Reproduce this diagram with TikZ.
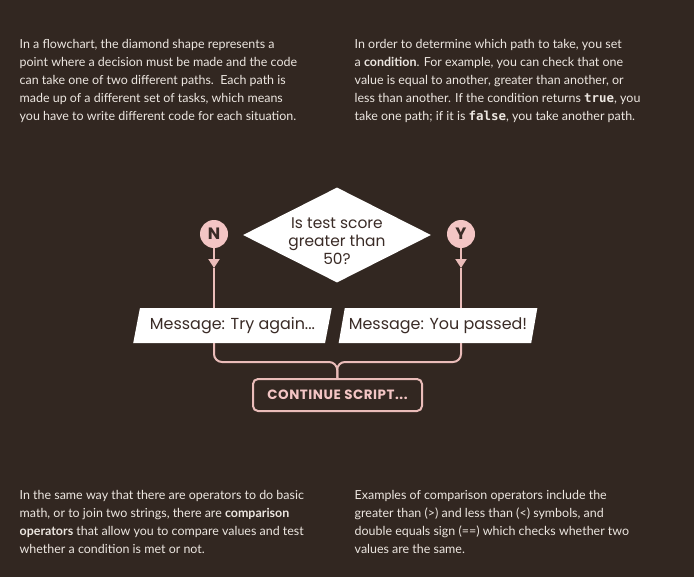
\documentclass[tikz,border=0pt]{standalone}
\usepackage{fontspec}
\setmainfont{Lato}
\newfontfamily\diafont{Poppins}
\newfontfamily\capsfont[LetterSpace=4]{Poppins}
\setmonofont{DejaVu Sans Mono}
\usetikzlibrary{shapes.geometric,arrows.meta}
\definecolor{bgc}{RGB}{50,39,33}
\definecolor{bodyc}{RGB}{236,230,224}
\definecolor{pinkc}{RGB}{243,197,196}
\definecolor{linec}{RGB}{234,188,185}
\definecolor{inkc}{RGB}{58,43,38}
\begin{document}
\begin{tikzpicture}[x=1bp,y=-1bp,
  body/.style={anchor=base west, inner sep=0, text=bodyc, font=\fontsize{12.5}{15}\selectfont},
  conn/.style={draw=linec, line width=2bp},
  badge/.style={circle, fill=pinkc, minimum size=28bp, inner sep=0, text=inkc, font=\diafont\bfseries\fontsize{16.5}{16.5}\selectfont},
  msg/.style={trapezium, trapezium left angle=70, trapezium right angle=110, trapezium stretches=true, fill=white, inner sep=0, minimum width=199bp, minimum height=35bp, text=inkc, font=\diafont\fontsize{16}{18}\selectfont},
  decision/.style={diamond, fill=white, inner sep=0, minimum width=188bp, minimum height=95bp},
  contbox/.style={rectangle, rounded corners=5bp, draw=linec, line width=2bp, minimum width=169bp, minimum height=32bp, inner sep=0, text=pinkc, font=\capsfont\bfseries\fontsize{13.5}{15}\selectfont},
  tip/.style={-{Triangle[width=11bp,length=9bp]}}
]
\fill[bgc] (0,0) rectangle (694,577);
\useasboundingbox (0,0) rectangle (694,577);

% top-left paragraph
\node[body] (tl1) at (19.5,48.3) {In a flowchart, the diamond shape represents a};
\node[body] (tl2) at (19.5,66.4) {point where a decision must be made and the code};
\node[body] (tl3) at (19.5,84.5) {can take one of two different paths.\ \ Each path is};
\node[body] (tl4) at (19.5,102.6) {made up of a different set of tasks, which means};
\node[body] (tl5) at (19.5,120.7) {you have to write different code for each situation.};

% top-right paragraph
\node[body] (tr1) at (354.5,48.3) {In order to determine which path to take, you set};
\node[body] (tr2) at (354.5,66.4) {a \textbf{condition}. For example, you can check that one};
\node[body] (tr3) at (354.5,84.5) {value is equal to another, greater than another, or};
\node[body] (tr4) at (354.5,102.6) {less than another. If the condition returns \texttt{\textbf{true}}, you};
\node[body] (tr5) at (354.5,120.7) {take one path; if it is \texttt{\textbf{false}}, you take another path.};

% bottom-left paragraph
\node[body] (bl1) at (19.5,499.3) {In the same way that there are operators to do basic};
\node[body] (bl2) at (19.5,517.5) {math, or to join two strings, there are \textbf{comparison}};
\node[body] (bl3) at (19.5,535.7) {\textbf{operators} that allow you to compare values and test};
\node[body] (bl4) at (19.5,553.9) {whether a condition is met or not.};

% bottom-right paragraph
\node[body] (br1) at (354.5,499.3) {Examples of comparison operators include the};
\node[body] (br2) at (354.5,517.5) {greater than (>) and less than (<) symbols, and};
\node[body] (br3) at (354.5,535.7) {double equals sign (==) which checks whether two};
\node[body] (br4) at (354.5,553.9) {values are the same.};

% flowchart
\node[decision] (dec) at (337,235) {};
\node[align=center, inner sep=0, text=inkc, font=\diafont\fontsize{15.5}{18}\selectfont] (dect) at (337,241) {Is test score\\greater than\\50?};

\node[badge] (N) at (214,234) {N};
\node[badge] (Y) at (461,234) {Y};

\node[msg] (lmsg) at (232.5,325.5) {Message: Try again...};
\node[msg] (rmsg) at (438,325.5) {Message: You passed!};

\node[contbox] (cont) at (337.5,395) {CONTINUE SCRIPT...};

\coordinate (na) at (214,268);
\coordinate (ya) at (461,268);
\coordinate (j) at (337,362);

\draw[conn, tip] (N) -- (na);
\draw[conn] (na) -- (na |- lmsg.north);
\draw[conn, tip] (Y) -- (ya);
\draw[conn] (ya) -- (ya |- rmsg.north);

\draw[conn, rounded corners=8bp] (na |- lmsg.south) |- (j) -- (cont.north);
\draw[conn, rounded corners=8bp] (ya |- rmsg.south) |- (j) -- (cont.north);
\end{tikzpicture}
\end{document}
